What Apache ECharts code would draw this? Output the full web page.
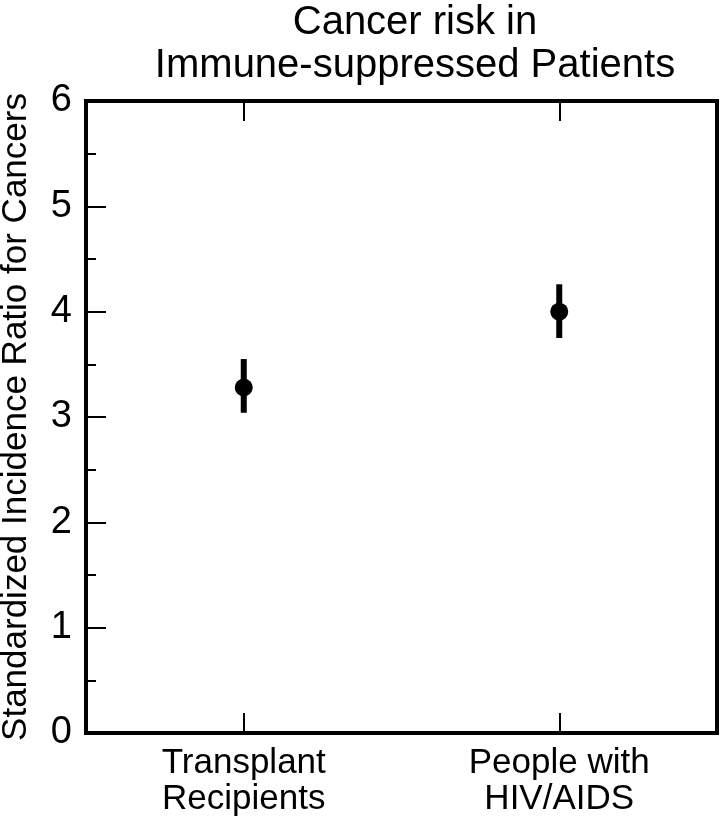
<!DOCTYPE html>
<html>
<head>
<meta charset="utf-8">
<script src="https://cdn.jsdelivr.net/npm/echarts@6/dist/echarts.min.js"></script>
<style>html,body{margin:0;padding:0;background:#fff;}#c{width:720px;height:828px;}</style>
</head>
<body>
<div id="c"></div>
<script>
const categories = ['Transplant\nRecipients', 'People with\nHIV/AIDS'];
const sirValues = [3.28, 4.0];
const lowerCI = [3.04, 3.75];
const upperCI = [3.55, 4.26];
const yTicks = [0, 1, 2, 3, 4, 5, 6];

const FONT = '"Liberation Sans", Arial, Helvetica, sans-serif';
const chart = echarts.init(document.getElementById('c'));
chart.setOption({
  animation: false,
  backgroundColor: '#fff',
  title: {
    text: 'Cancer risk in\nImmune-suppressed Patients',
    left: 410, top: -4, textAlign: 'center',
    textStyle: { fontFamily: FONT, fontSize: 40, fontWeight: 'normal', color: '#000', lineHeight: 43 }
  },
  grid: { left: 86, right: 3, top: 101, bottom: 95, containLabel: false, outerBoundsMode: 'none', show: true, borderColor: '#000', borderWidth: 4, backgroundColor: 'transparent' },
  xAxis: [{
    type: 'category', data: categories, position: 'bottom',
    axisLine: { show: true, lineStyle: { color: '#000', width: 4 } },
    axisTick: { show: true, inside: true, length: 20, alignWithLabel: true, lineStyle: { color: '#000', width: 2 } },
    axisLabel: { fontFamily: FONT, fontSize: 35, color: '#000', lineHeight: 36, margin: 12, interval: 0 },
    splitLine: { show: false }
  }, {
    type: 'category', data: categories, position: 'top',
    axisLine: { show: true, lineStyle: { color: '#000', width: 4 } },
    axisTick: { show: true, inside: true, length: 20, alignWithLabel: true, lineStyle: { color: '#000', width: 2 } },
    axisLabel: { show: false },
    splitLine: { show: false }
  }],
  yAxis: {
    type: 'value', min: yTicks[0], max: yTicks[yTicks.length - 1], interval: 1,
    name: 'Standardized Incidence Ratio for Cancers',
    nameLocation: 'middle', nameRotate: 90, nameGap: 52,
    nameTextStyle: { fontFamily: FONT, fontSize: 35, color: '#000' },
    axisLine: { show: true, lineStyle: { color: '#000', width: 4 } },
    axisTick: { show: true, inside: true, length: 20, lineStyle: { color: '#000', width: 2 } },
    minorTick: { show: true, splitNumber: 2, length: 10, lineStyle: { color: '#000', width: 2 } },
    axisLabel: { fontFamily: FONT, fontSize: 38, color: '#000', margin: 14 },
    splitLine: { show: false }
  },
  series: [{
    type: 'custom',
    data: categories.map((c, i) => [i, lowerCI[i], upperCI[i]]),
    renderItem: function (params, api) {
      const lo = api.coord([api.value(0), api.value(1)]);
      const hi = api.coord([api.value(0), api.value(2)]);
      return {
        type: 'line',
        shape: { x1: lo[0], y1: lo[1], x2: hi[0], y2: hi[1] },
        style: { stroke: '#000', lineWidth: 6 }
      };
    },
    z: 2
  }, {
    type: 'scatter',
    data: categories.map((c, i) => [i, sirValues[i]]),
    symbol: 'circle', symbolSize: 18,
    itemStyle: { color: '#000', opacity: 1 },
    z: 3
  }]
});
</script>
</body>
</html>
